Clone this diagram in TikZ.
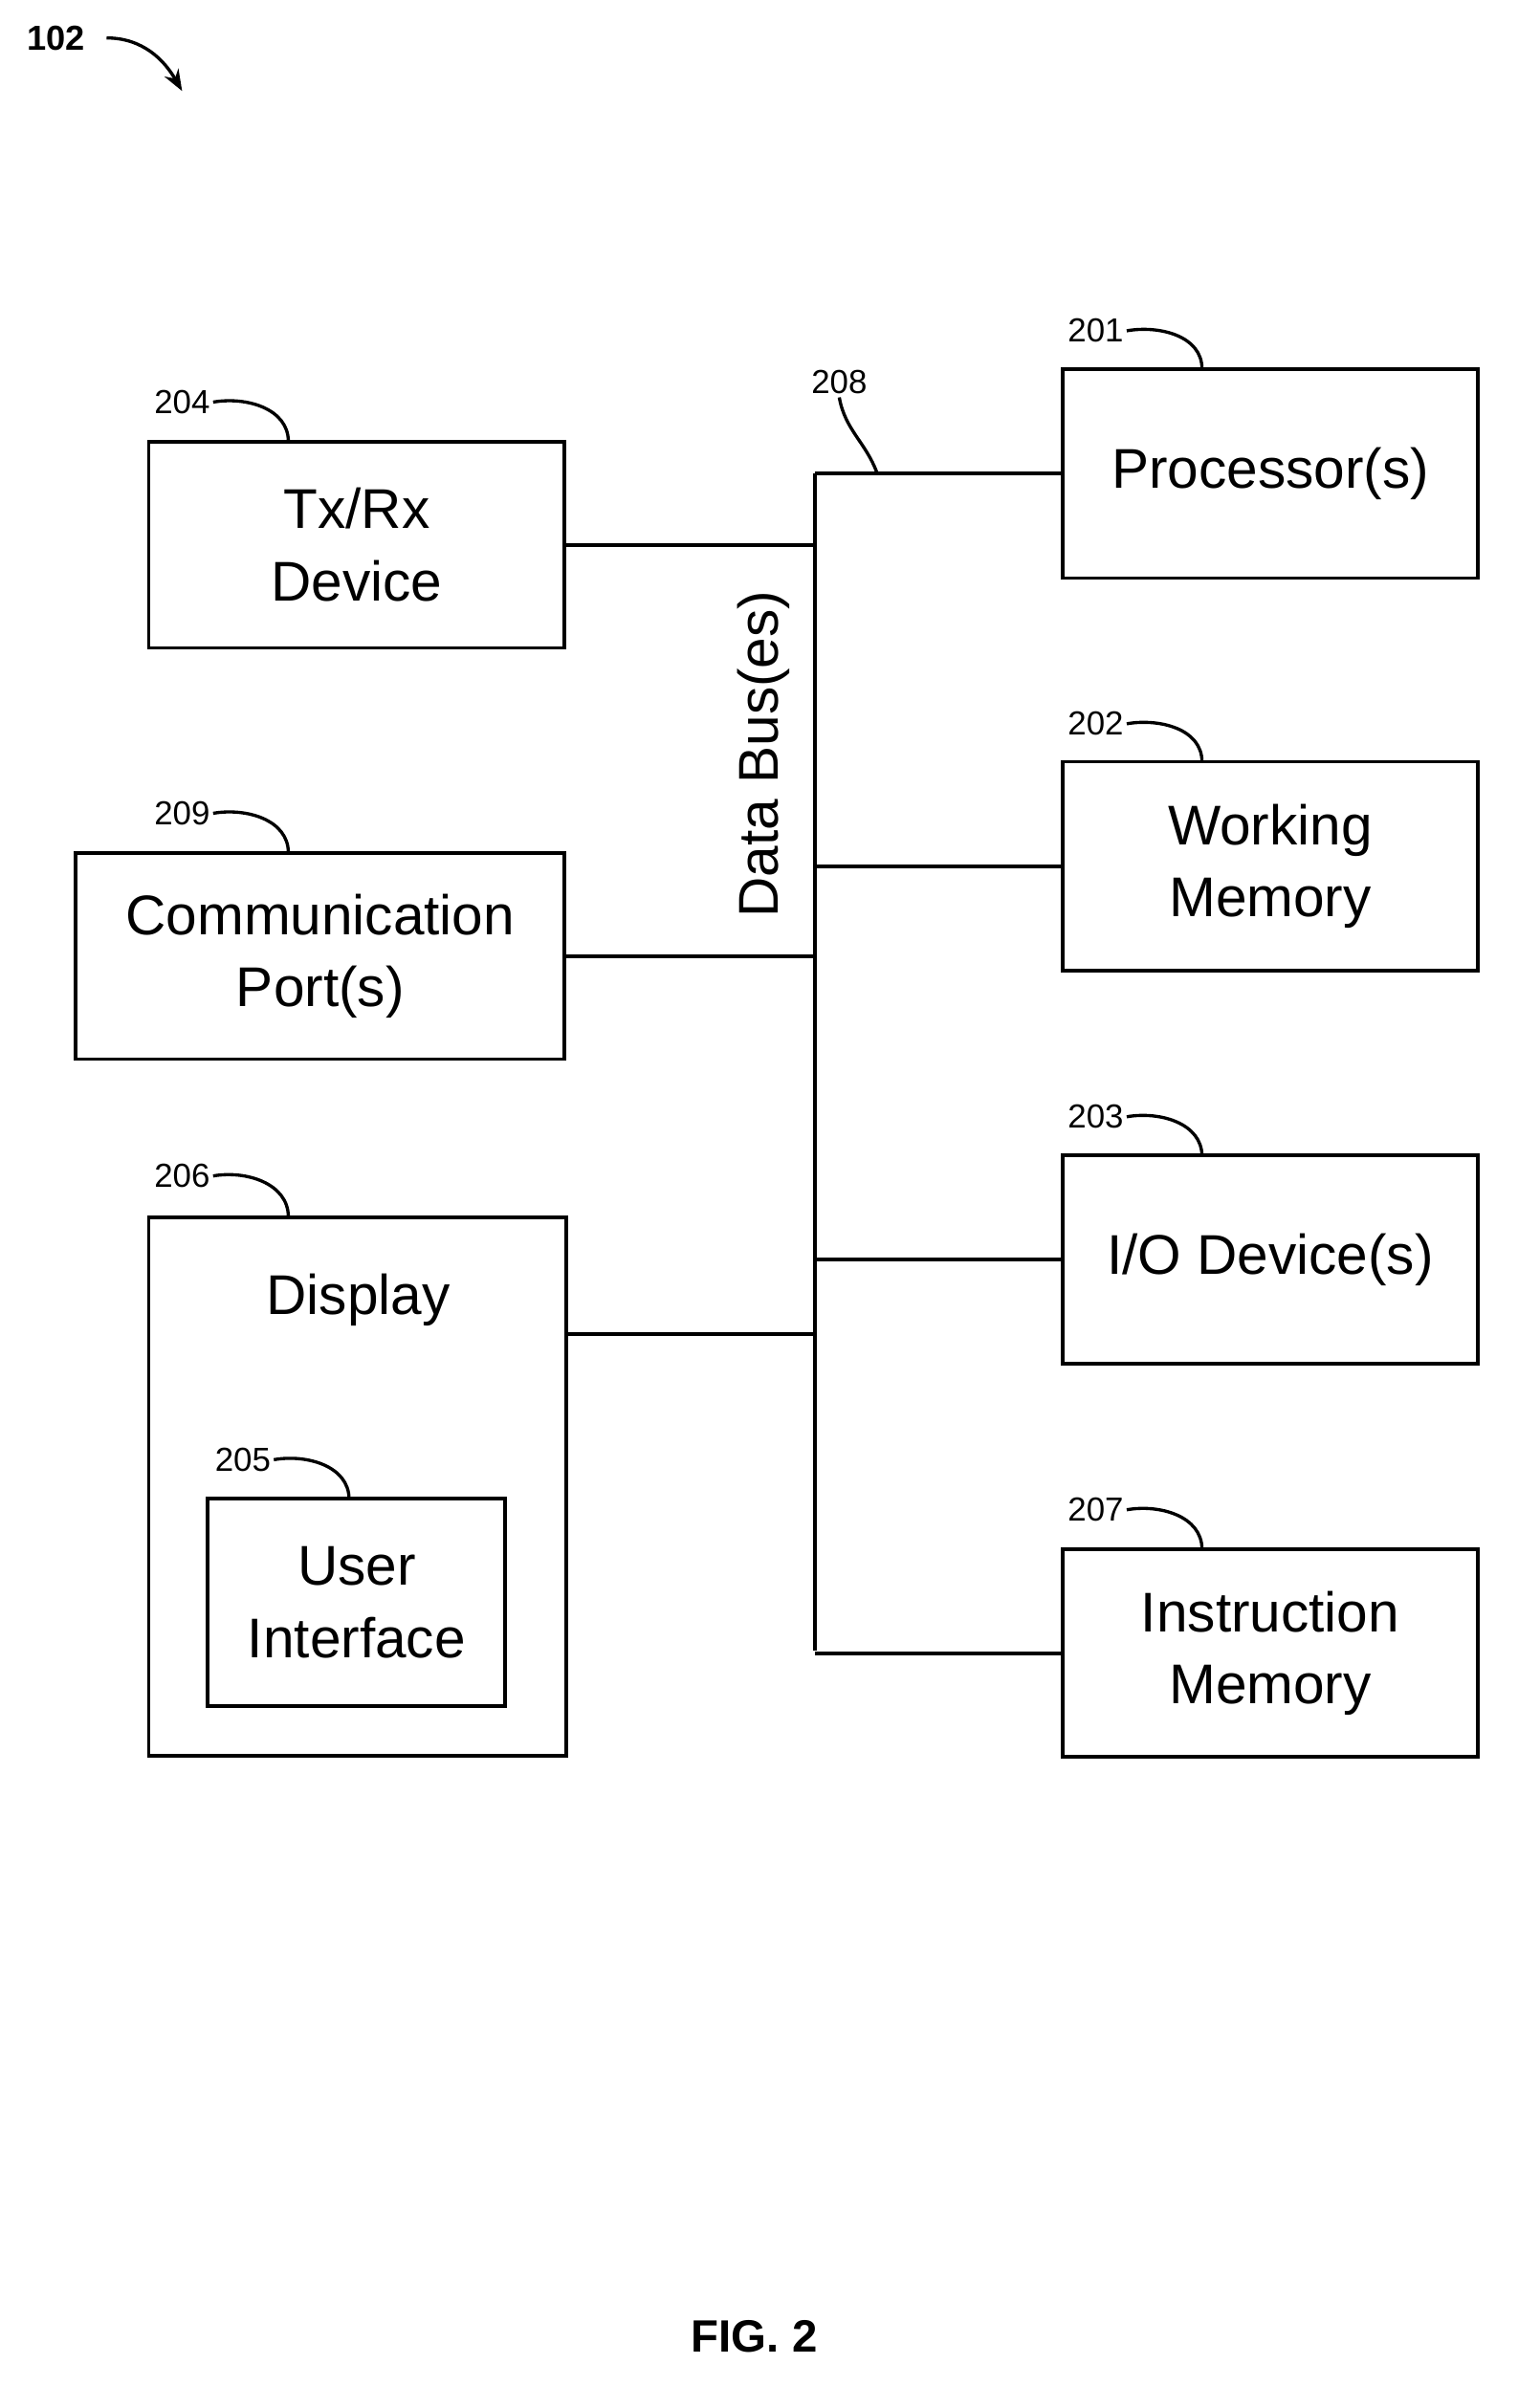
\documentclass[tikz,border=0pt]{standalone}
\usepackage{fontspec}
\setmainfont{Liberation Sans}
\usetikzlibrary{positioning,arrows.meta}
\tikzset{
  box/.style={draw, line width=1.4pt, align=center, inner sep=0pt, font=\fontsize{21}{27}\selectfont},
  num/.style={font=\fontsize{12.5}{14}\selectfont, inner sep=1pt},
  hook/.style={line width=1.2pt},
  bus/.style={line width=1.4pt}
}
\begin{document}
\begin{tikzpicture}[x=0.02cm, y=-0.02cm]
  \useasboundingbox (0,0) rectangle (1000,1587);

  % left column
  \node[box, minimum width=5.48cm, minimum height=2.72cm] (tx) at (235,359) {Tx/Rx\\Device};
  \node[box, minimum width=6.44cm, minimum height=2.72cm] (port) at (211,630) {Communication\\Port(s)};
  \node[box, minimum width=5.5cm, minimum height=7.1cm] (disp) at (235.5,979.5) {};
  \node[font=\fontsize{21}{27}\selectfont] (displbl) at (236,857) {Display};
  \node[box, minimum width=3.92cm, minimum height=2.74cm] (ui) at (235,1056) {User\\Interface};

  % right column
  \node[box, minimum width=5.48cm, minimum height=2.76cm] (proc) at (837,312) {Processor(s)};
  \node[box, minimum width=5.48cm, minimum height=2.76cm] (wmem) at (837,571) {Working\\Memory};
  \node[box, minimum width=5.48cm, minimum height=2.74cm] (io) at (837,830) {I/O Device(s)};
  \node[box, minimum width=5.48cm, minimum height=2.74cm] (imem) at (837,1089.5) {Instruction\\Memory};

  % reference numerals
  \node[num] (n204) at (120,265) {204};
  \node[num] (n209) at (120,536) {209};
  \node[num] (n206) at (120,775) {206};
  \node[num] (n205) at (160,962) {205};
  \node[num] (n201) at (722,218) {201};
  \node[num] (n202) at (722,477) {202};
  \node[num] (n203) at (722,736) {203};
  \node[num] (n207) at (722,995) {207};
  \node[num] (n208) at (553,252) {208};
  \node[font=\bfseries\fontsize{13}{15}\selectfont] (n102) at (37,25) {102};
  \node[font=\bfseries\fontsize{17}{20}\selectfont] (fig) at (497,1540) {FIG. 2};

  \draw[hook] (n204.east) to[out=10,in=90] (190,291);
  \draw[hook] (n209.east) to[out=10,in=90] (190,562);
  \draw[hook] (n206.east) to[out=10,in=90] (190,802);
  \draw[hook] (n205.east) to[out=10,in=90] (230,988);
  \draw[hook] (n201.east) to[out=10,in=90] (792,243);
  \draw[hook] (n202.east) to[out=10,in=90] (792,502);
  \draw[hook] (n203.east) to[out=10,in=90] (792,762);
  \draw[hook] (n207.east) to[out=10,in=90] (792,1021);
  \draw[hook] (n208.south) to[out=-80,in=110] (578,312);
  \draw[hook, -{Stealth[length=8pt]}] (n102.east) ++(8,0) to[out=0,in=120] (120,60);

  % data bus
  \coordinate (top) at (537,312);
  \coordinate (bot) at (537,1088);
  \draw[bus] (top) -- (bot);
  \node[rotate=90, font=\fontsize{21}{27}\selectfont] (buslbl) at (503,497) {Data Bus(es)};
  \draw[bus] (top) -- (proc.west);
  \draw[bus] (tx.east) -- (tx.east -| top);
  \draw[bus] (wmem.west) -- (wmem.west -| top);
  \draw[bus] (port.east) -- (port.east -| top);
  \draw[bus] (io.west) -- (io.west -| top);
  \draw[bus] (373,879) -- (537,879);
  \draw[bus] (imem.west) -- (imem.west -| top);
\end{tikzpicture}
\end{document}
